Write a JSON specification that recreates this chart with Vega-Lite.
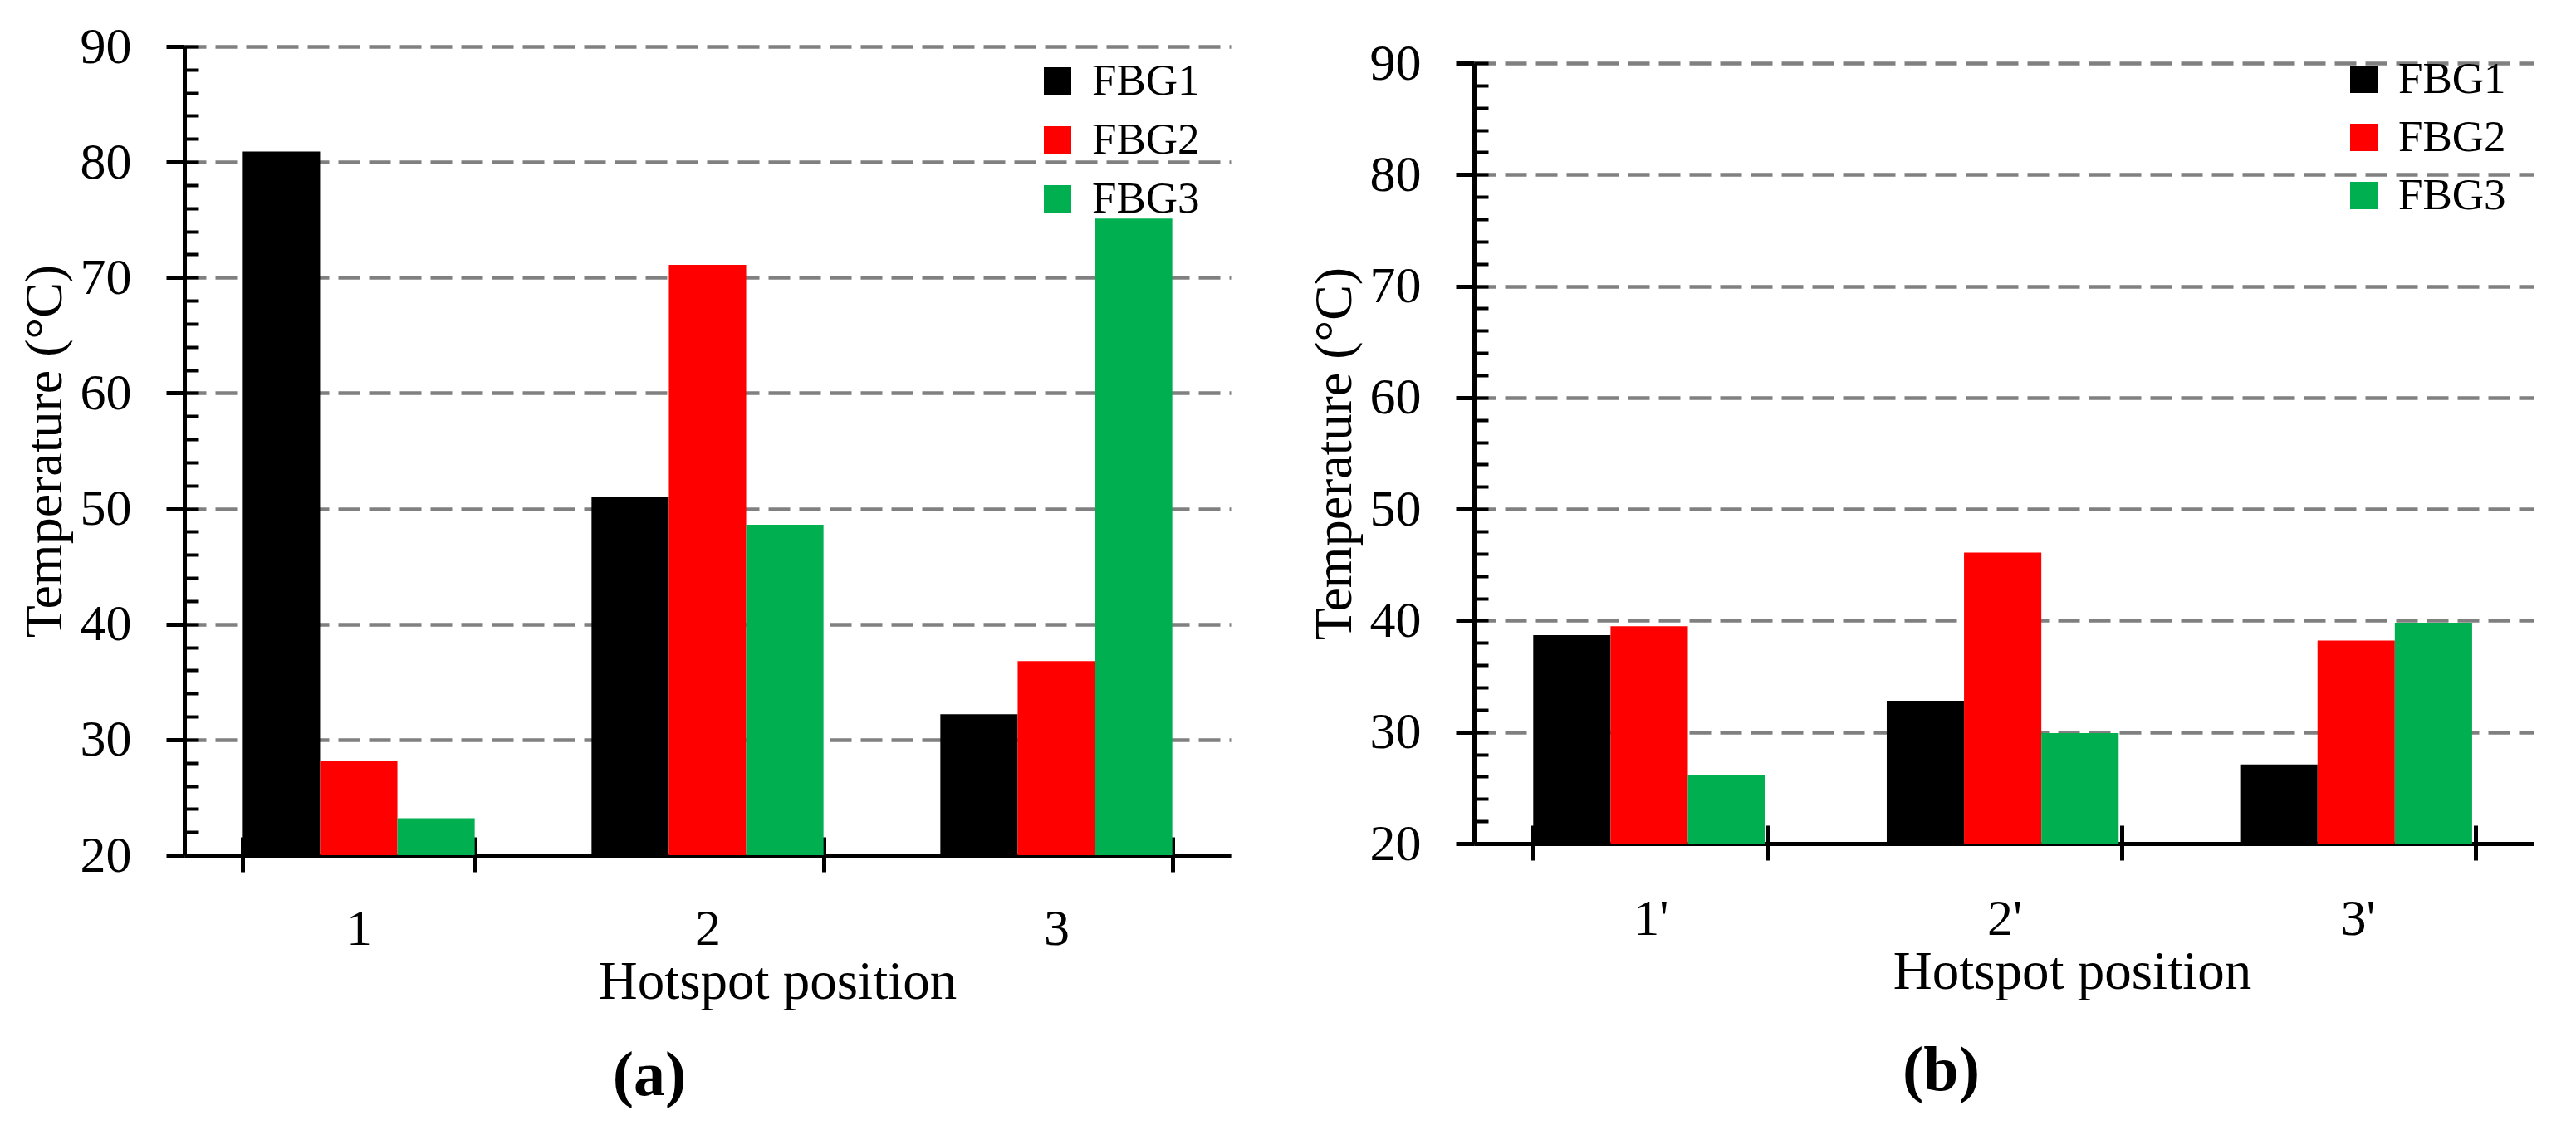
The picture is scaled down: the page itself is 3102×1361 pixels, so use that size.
{
  "$schema": "https://vega.github.io/schema/vega-lite/v6.json",
  "background": "white",
  "padding": {"left": 22, "top": 25, "right": 0, "bottom": 0},
  "datasets": {
    "a": [
      {"pos": "1", "sensor": "FBG1", "value": 80.9},
      {"pos": "1", "sensor": "FBG2", "value": 28.2},
      {"pos": "1", "sensor": "FBG3", "value": 23.2},
      {"pos": "2", "sensor": "FBG1", "value": 51.0},
      {"pos": "2", "sensor": "FBG2", "value": 71.1},
      {"pos": "2", "sensor": "FBG3", "value": 48.6},
      {"pos": "3", "sensor": "FBG1", "value": 32.2},
      {"pos": "3", "sensor": "FBG2", "value": 36.8},
      {"pos": "3", "sensor": "FBG3", "value": 75.1}
    ],
    "b": [
      {"pos": "1'", "sensor": "FBG1", "value": 38.7},
      {"pos": "1'", "sensor": "FBG2", "value": 39.5},
      {"pos": "1'", "sensor": "FBG3", "value": 26.1},
      {"pos": "2'", "sensor": "FBG1", "value": 32.8},
      {"pos": "2'", "sensor": "FBG2", "value": 46.1},
      {"pos": "2'", "sensor": "FBG3", "value": 29.9},
      {"pos": "3'", "sensor": "FBG1", "value": 27.1},
      {"pos": "3'", "sensor": "FBG2", "value": 38.2},
      {"pos": "3'", "sensor": "FBG3", "value": 39.8}
    ],
    "none": []
  },
  "spacing": 93,
  "resolve": {"scale": {"color": "independent"}, "legend": {"color": "independent"}},
  "hconcat": [
    {
      "width": 1260,
      "height": 974,
      "data": {"name": "a"},
      "title": {"text": "(a)", "orient": "bottom", "frame": "group", "anchor": "middle", "dx": -70, "offset": 44, "font": "Liberation Serif", "fontSize": 76, "fontWeight": "bold", "color": "black"},
      "layer": [
        {
          "mark": {"type": "bar"},
          "encoding": {
            "x": {"field": "pos", "type": "nominal", "sort": null, "scale": {"paddingInner": 0.335, "paddingOuter": 0.1675},
              "axis": {"orient": "bottom", "tickBand": "extent", "tickSize": 20, "tickWidth": 5, "tickColor": "black", "domainColor": "black", "domainWidth": 5, "labelAngle": 0, "labelFont": "Liberation Serif", "labelFontSize": 62, "labelColor": "black", "labelPadding": 38, "title": "Hotspot position", "titleFont": "Liberation Serif", "titleFontSize": 65, "titleFontWeight": "normal", "titleColor": "black", "titlePadding": 2, "titleX": 714, "grid": false}},
            "xOffset": {"field": "sensor", "type": "nominal", "sort": ["FBG1", "FBG2", "FBG3"]},
            "y": {"field": "value", "type": "quantitative", "scale": {"domain": [20, 90], "nice": false, "zero": false},
              "axis": {"orient": "left", "values": [20, 30, 40, 50, 60, 70, 80, 90], "title": "Temperature (°C)", "titleFont": "Liberation Serif", "titleFontSize": 64, "titleFontWeight": "normal", "titleColor": "black", "titlePadding": 10, "labelFont": "Liberation Serif", "labelFontSize": 62, "labelColor": "black", "labelPadding": 42, "tickSize": 22, "tickWidth": 5, "tickColor": "black", "domainColor": "black", "domainWidth": 5, "grid": true, "gridColor": "#808080", "gridDash": [26, 11], "gridWidth": 4.5}},
            "y2": {"datum": 20},
            "color": {"field": "sensor", "type": "nominal", "scale": {"domain": ["FBG1", "FBG2", "FBG3"], "range": ["#000000", "#FF0000", "#00B050"]},
              "legend": {"orient": "none", "legendX": 1025, "legendY": 15, "title": null, "symbolType": "square", "symbolSize": 1089, "symbolStrokeWidth": 0, "labelFont": "Liberation Serif", "labelFontSize": 53, "labelColor": "black", "labelOffset": 15, "rowPadding": 17, "padding": 0}}
          }
        },
        {
          "mark": {"type": "bar", "opacity": 0},
          "encoding": {
            "x": {"field": "pos", "type": "nominal", "sort": null, "scale": {"paddingInner": 0.335, "paddingOuter": 0.1675},
              "axis": {"orient": "bottom", "tickBand": "extent", "tickSize": -22, "tickWidth": 5, "tickColor": "black", "labels": false, "domain": false, "title": null, "grid": false}},
            "xOffset": {"field": "sensor", "type": "nominal", "sort": ["FBG1", "FBG2", "FBG3"]},
            "y": {"field": "value", "type": "quantitative", "scale": {"domain": [20, 90], "nice": false, "zero": false},
              "axis": {"orient": "left", "values": [20, 22, 24, 26, 28, 30, 32, 34, 36, 38, 40, 42, 44, 46, 48, 50, 52, 54, 56, 58, 60, 62, 64, 66, 68, 70, 72, 74, 76, 78, 80, 82, 84, 86, 88, 90], "tickSize": -17, "tickWidth": 4, "tickColor": "black", "labels": false, "domain": false, "grid": false, "title": null}},
            "y2": {"datum": 20}
          }
        },
        {
          "mark": {"type": "bar", "opacity": 0},
          "encoding": {
            "x": {"field": "pos", "type": "nominal", "sort": null, "scale": {"paddingInner": 0.335, "paddingOuter": 0.1675},
              "axis": {"orient": "bottom", "tickSize": -15, "tickWidth": 4, "tickColor": "black", "labels": false, "domain": false, "title": null, "grid": false}},
            "xOffset": {"field": "sensor", "type": "nominal", "sort": ["FBG1", "FBG2", "FBG3"]},
            "y": {"field": "value", "type": "quantitative", "scale": {"domain": [20, 90], "nice": false, "zero": false}, "axis": null},
            "y2": {"datum": 20}
          }
        }
      ],
      "resolve": {"axis": {"x": "independent", "y": "independent"}}
    },
    {
      "vconcat": [
        {
          "width": 1277,
          "height": 1,
          "data": {"name": "none"},
          "mark": {"type": "rule"},
          "encoding": {}
        },
        {
          "width": 1277,
          "height": 940,
          "data": {"name": "b"},
          "title": {"text": "(b)", "orient": "bottom", "frame": "group", "anchor": "middle", "dx": -76, "offset": 50, "font": "Liberation Serif", "fontSize": 76, "fontWeight": "bold", "color": "black"},
          "layer": [
            {
              "mark": {"type": "bar"},
              "encoding": {
                "x": {"field": "pos", "type": "nominal", "sort": null, "scale": {"paddingInner": 0.335, "paddingOuter": 0.1675},
                  "axis": {"orient": "bottom", "tickBand": "extent", "tickSize": 20, "tickWidth": 5, "tickColor": "black", "domainColor": "black", "domainWidth": 5, "labelAngle": 0, "labelFont": "Liberation Serif", "labelFontSize": 62, "labelColor": "black", "labelPadding": 40, "title": "Hotspot position", "titleFont": "Liberation Serif", "titleFontSize": 65, "titleFontWeight": "normal", "titleColor": "black", "titlePadding": 2, "titleX": 720, "grid": false}},
                "xOffset": {"field": "sensor", "type": "nominal", "sort": ["FBG1", "FBG2", "FBG3"]},
                "y": {"field": "value", "type": "quantitative", "scale": {"domain": [20, 90], "nice": false, "zero": false},
                  "axis": {"orient": "left", "values": [20, 30, 40, 50, 60, 70, 80, 90], "title": "Temperature (°C)", "titleFont": "Liberation Serif", "titleFontSize": 64, "titleFontWeight": "normal", "titleColor": "black", "titlePadding": 10, "labelFont": "Liberation Serif", "labelFontSize": 62, "labelColor": "black", "labelPadding": 42, "tickSize": 22, "tickWidth": 5, "tickColor": "black", "domainColor": "black", "domainWidth": 5, "grid": true, "gridColor": "#808080", "gridDash": [26, 11], "gridWidth": 4.5}},
                "y2": {"datum": 20},
                "color": {"field": "sensor", "type": "nominal", "scale": {"domain": ["FBG1", "FBG2", "FBG3"], "range": ["#000000", "#FF0000", "#00B050"]},
                  "legend": {"orient": "none", "legendX": 1045, "legendY": 13, "title": null, "symbolType": "square", "symbolSize": 1089, "symbolStrokeWidth": 0, "labelFont": "Liberation Serif", "labelFontSize": 53, "labelColor": "black", "labelOffset": 15, "rowPadding": 16, "padding": 0}}
              }
            },
            {
              "mark": {"type": "bar", "opacity": 0},
              "encoding": {
                "x": {"field": "pos", "type": "nominal", "sort": null, "scale": {"paddingInner": 0.335, "paddingOuter": 0.1675},
                  "axis": {"orient": "bottom", "tickBand": "extent", "tickSize": -22, "tickWidth": 5, "tickColor": "black", "labels": false, "domain": false, "title": null, "grid": false}},
                "xOffset": {"field": "sensor", "type": "nominal", "sort": ["FBG1", "FBG2", "FBG3"]},
                "y": {"field": "value", "type": "quantitative", "scale": {"domain": [20, 90], "nice": false, "zero": false},
                  "axis": {"orient": "left", "values": [20, 22, 24, 26, 28, 30, 32, 34, 36, 38, 40, 42, 44, 46, 48, 50, 52, 54, 56, 58, 60, 62, 64, 66, 68, 70, 72, 74, 76, 78, 80, 82, 84, 86, 88, 90], "tickSize": -17, "tickWidth": 4, "tickColor": "black", "labels": false, "domain": false, "grid": false, "title": null}},
                "y2": {"datum": 20}
              }
            },
            {
              "mark": {"type": "bar", "opacity": 0},
              "encoding": {
                "x": {"field": "pos", "type": "nominal", "sort": null, "scale": {"paddingInner": 0.335, "paddingOuter": 0.1675},
                  "axis": {"orient": "bottom", "tickSize": -15, "tickWidth": 4, "tickColor": "black", "labels": false, "domain": false, "title": null, "grid": false}},
                "xOffset": {"field": "sensor", "type": "nominal", "sort": ["FBG1", "FBG2", "FBG3"]},
                "y": {"field": "value", "type": "quantitative", "scale": {"domain": [20, 90], "nice": false, "zero": false}, "axis": null},
                "y2": {"datum": 20}
              }
            }
          ],
          "resolve": {"axis": {"x": "independent", "y": "independent"}}
        }
      ],
      "spacing": 19,
      "bounds": "flush"
    }
  ],
  "config": {"view": {"stroke": null}}
}
